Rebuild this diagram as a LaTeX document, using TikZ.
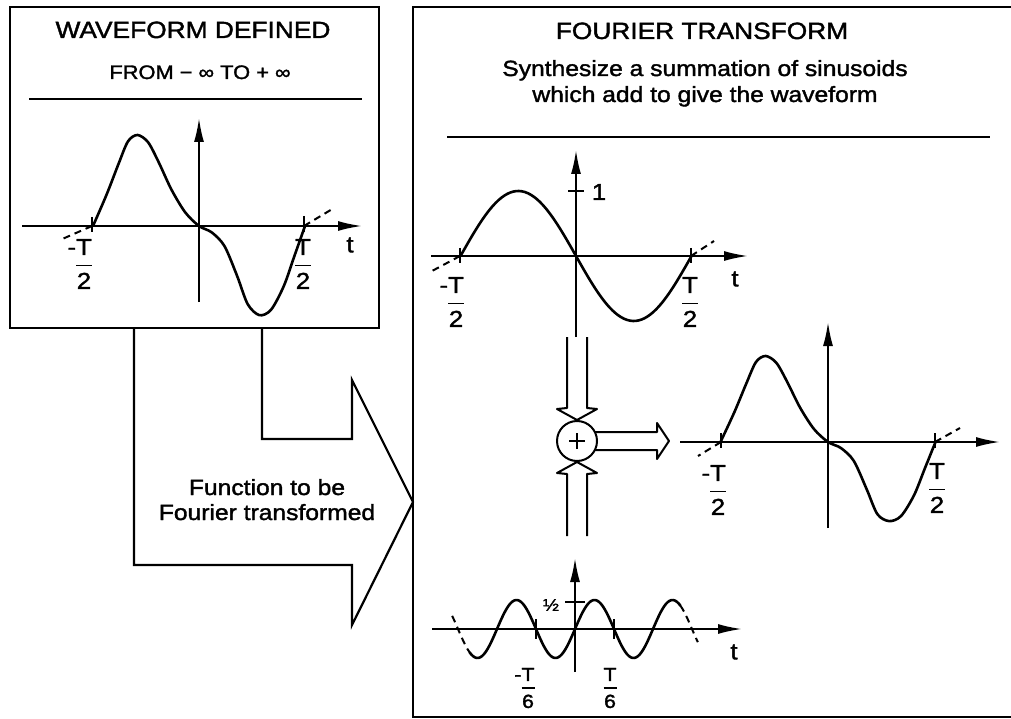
\documentclass[tikz,border=0pt]{standalone}
\usepackage{amsmath}
\usepackage{fontspec}
\setmainfont{Liberation Sans}[FakeStretch=1.12, FakeBold=1.6]
\usetikzlibrary{arrows.meta}
\newcommand\fracT[2]{$\displaystyle\genfrac{}{}{1.8pt}{0}{\mbox{#1}}{\mbox{#2}}$}
\tikzset{
  box/.style={line width=2.2pt, line join=miter},
  curve/.style={line width=2.6pt, line cap=round, line join=round},
  axis/.style={line width=2pt, -{Latex[length=24pt,width=10pt]}},
  tick/.style={line width=2pt},
  dsh/.style={line width=2pt, dash pattern=on 7pt off 5pt},
  lbl/.style={font=\fontsize{23}{23}\selectfont, inner sep=0pt},
  slbl/.style={font=\fontsize{19}{19}\selectfont, inner sep=0pt},
  title/.style={font=\fontsize{23.5}{23.5}\selectfont, inner sep=0pt, anchor=base},
  body/.style={font=\fontsize{22}{22}\selectfont, inner sep=0pt, anchor=base},
}
\begin{document}
\begin{tikzpicture}[x=1pt,y=-1pt]
\useasboundingbox (0,0) rectangle (1011,719);

% ---------- left box ----------
\draw[box] (10,7) rectangle (379,328);
\node[title] (t1) at (193,38) {WAVEFORM DEFINED};
\node[font=\fontsize{19.5}{19.5}\selectfont, inner sep=0pt, anchor=base] (t2) at (200,79) {FROM − ∞ TO + ∞};
\draw[line width=2.2pt] (29,99) -- (362,99);

\draw[axis] (22,226) -- (362,226);
\draw[axis] (199,302) -- (199,118);
\draw[tick] (92,217) -- (92,232);
\draw[tick] (304,216) -- (304,232);
\begin{scope}[shift={(199,226)}, x=106pt, y=91pt]
\draw[curve] plot[smooth] coordinates {(-1,0) (-0.87,0.35) (-0.76,0.68) (-0.67,0.93) (-0.58,1) (-0.48,0.92) (-0.38,0.7) (-0.26,0.4) (-0.13,0.15) (0,0) (0.12,-0.07) (0.24,-0.22) (0.36,-0.55) (0.46,-0.86) (0.57,-0.98) (0.68,-0.92) (0.8,-0.66) (0.9,-0.33) (1,0)};
\end{scope}
\draw[dsh] (92,226) -- (60,240);
\draw[dsh] (304,226) -- (334,208);
\node[lbl] (l1a) at (84,264) {\fracT{\llap{-}T}{2}};
\node[lbl] (l1b) at (303,264) {\fracT{T}{2}};
\node[lbl] (l1t) at (350,245) {t};

% ---------- big arrow ----------
\draw[box] (134,328) -- (134,565) -- (352,565) -- (352,625) -- (413,502)
  -- (352,380) -- (352,439) -- (262,439) -- (262,328);
\node[font=\fontsize{22}{22}\selectfont, inner sep=0pt, anchor=base] (f1) at (267,495) {Function to be};
\node[font=\fontsize{22}{22}\selectfont, inner sep=0pt, anchor=base] (f2) at (267,520) {Fourier transformed};

% ---------- right box ----------
\draw[box] (1020,7) -- (413,7) -- (413,717) -- (1020,717);
\node[title] (r1) at (702,39) {FOURIER TRANSFORM};
\node[body] (r2) at (705,76) {Synthesize a summation of sinusoids};
\node[body] (r3) at (705,102) {which add to give the waveform};
\draw[line width=2.2pt] (447,137) -- (990,137);

% graph 1: sine
\draw[axis] (431,256) -- (748,256);
\draw[axis] (576,337) -- (576,150);
\draw[tick] (568,191) -- (584,191);
\draw[tick] (460,248) -- (460,263);
\draw[tick] (691,248) -- (691,263);
\begin{scope}[shift={(576,256)}, x=115.5pt, y=65pt]
\draw[curve] plot[domain=-1:1, samples=80, smooth] (\x,{-sin(180*\x)});
\end{scope}
\draw[dsh] (460,256) -- (432,271);
\draw[dsh] (691,256) -- (714,241);
\node[lbl] (g1a) at (456,302) {\fracT{\llap{-}T}{2}};
\node[lbl] (g1b) at (690,302) {\fracT{T}{2}};
\node[lbl] (g1t) at (735,279) {t};
\node[lbl] (g1one) at (599,192) {1};

% summing junction
\node[draw, circle, line width=2pt, minimum size=40pt, inner sep=0pt] (sum) at (577,441) {};
\draw[line width=2.6pt] ([xshift=-8pt]sum.center) -- ([xshift=8pt]sum.center);
\draw[line width=2.6pt] ([yshift=-8pt]sum.center) -- ([yshift=8pt]sum.center);
\draw[line width=2pt, line join=round] (567,337) -- (567,408) -- (557,409) -- (sum.north) -- (597,409) -- (587,408) -- (587,337);
\draw[line width=2pt, line join=round] (567,536) -- (567,474) -- (557,473) -- (sum.south) -- (597,473) -- (587,474) -- (587,536);
\draw[line width=2pt, line join=round] (595,432) -- (657,432) -- (657,423) -- (669,441) -- (657,459) -- (657,450) -- (595,450);

% graph 2: resulting waveform
\draw[axis] (680,442) -- (1000,442);
\draw[axis] (828,528) -- (828,322);
\draw[tick] (721,433) -- (721,448);
\draw[tick] (935,433) -- (935,448);
\begin{scope}[shift={(828,442)}, x=107.5pt, y=86pt]
\draw[curve] plot[smooth] coordinates {(-1,0) (-0.87,0.35) (-0.76,0.68) (-0.67,0.93) (-0.58,1) (-0.48,0.92) (-0.38,0.7) (-0.26,0.4) (-0.13,0.15) (0,0) (0.12,-0.07) (0.24,-0.22) (0.36,-0.55) (0.46,-0.84) (0.57,-0.92) (0.68,-0.86) (0.8,-0.62) (0.9,-0.31) (1,0)};
\end{scope}
\draw[dsh] (721,442) -- (698,456);
\draw[dsh] (935,442) -- (960,428);
\node[lbl] (g2a) at (718,490) {\fracT{\llap{-}T}{2}};
\node[lbl] (g2b) at (937,488) {\fracT{T}{2}};

% graph 3: third harmonic
\draw[axis] (432,629) -- (742,629);
\draw[axis] (575,672) -- (575,558);
\draw[tick] (565,602) -- (585,602);
\draw[tick] (536,619) -- (536,639);
\draw[tick] (614,619) -- (614,639);
\begin{scope}[shift={(575,629)}, x=117pt, y=29pt]
\draw[curve] plot[domain=-0.9:0.9, samples=120, smooth] (\x,{sin(540*\x)});
\draw[dsh] plot[domain=-1.05:-0.9, samples=10, smooth] (\x,{sin(540*\x)});
\draw[dsh] plot[domain=0.9:1.05, samples=10, smooth] (\x,{sin(540*\x)});
\end{scope}
\node[slbl] (g3a) at (528,688) {\fracT{\llap{-}T}{6}};
\node[slbl] (g3b) at (610,688) {\fracT{T}{6}};
\node[lbl] (g3t) at (734,652) {t};
\node[font=\fontsize{17}{17}\selectfont, inner sep=0pt] (g3h) at (551,605) {½};
\end{tikzpicture}
\end{document}
